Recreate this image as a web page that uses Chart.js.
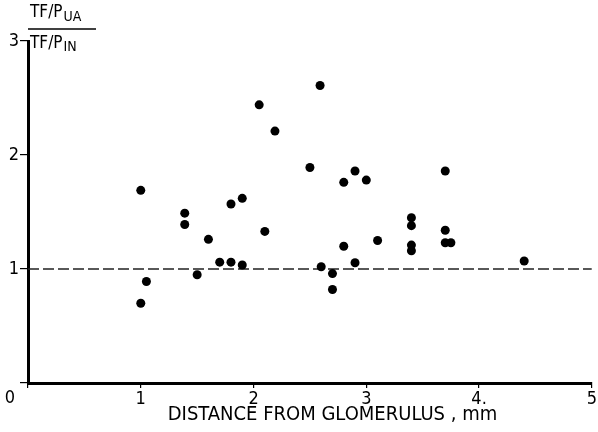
<!DOCTYPE html>
<html>
<head>
<meta charset="utf-8">
<script src="https://cdn.jsdelivr.net/npm/chart.js@4/dist/chart.umd.min.js"></script>
<style>
  html, body { margin: 0; padding: 0; background: #fff; }
  canvas { display: block; }
</style>
</head>
<body>
<canvas id="chart" width="598" height="432"></canvas>
<script>
// distance from glomerulus (mm) and TF/P(UA) / TF/P(IN) ratio
const distance = [1.00, 1.00, 1.05, 1.39, 1.39, 1.50, 1.60, 1.70, 1.80, 1.90,
  1.80, 1.90, 2.10, 2.05, 2.19, 2.59, 2.50, 2.80, 2.90, 3.00,
  2.80, 2.60, 2.70, 2.70, 2.90, 3.10, 3.40, 3.40, 3.40, 3.40,
  3.70, 3.70, 3.70, 3.75, 4.40];
const ratio = [1.69, 0.70, 0.89, 1.49, 1.39, 0.95, 1.26, 1.06, 1.06, 1.035,
  1.57, 1.62, 1.33, 2.44, 2.21, 2.61, 1.89, 1.76, 1.86, 1.78,
  1.20, 1.02, 0.96, 0.82, 1.055, 1.25, 1.45, 1.38, 1.21, 1.16,
  1.34, 1.86, 1.23, 1.23, 1.07];
const refLevel = 1;

const xTickLabels = ['', '1', '2', '3', '4.', '5'];
const yTickLabels = ['', '1', '2', '3'];
const xTitle = 'DISTANCE FROM GLOMERULUS , mm';

const FONT = "'DejaVu Sans Condensed', 'DejaVu Sans', sans-serif";

const points = distance.map((d, i) => ({ x: d, y: ratio[i] }));

// origin "0", x axis title and the fraction label at the top of the y axis
const extraText = {
  id: 'extraText',
  afterDraw(chart) {
    const ctx = chart.ctx;
    const xs = chart.scales.x;
    const ys = chart.scales.y;
    const x0 = xs.getPixelForValue(0);
    const y0 = ys.getPixelForValue(0);
    ctx.save();
    ctx.fillStyle = '#000';
    ctx.font = '18px ' + FONT;
    ctx.textAlign = 'center';
    ctx.textBaseline = 'middle';
    ctx.fillText('0', x0 - 18, y0 + 15);

    // axis title sits a bit right of centre in the original
    ctx.font = '20px ' + FONT;
    ctx.fillText(xTitle, xs.getPixelForValue(2.7), y0 + 32);

    // fraction TF/P_UA over TF/P_IN
    const left = x0 + 2;
    ctx.textAlign = 'left';
    ctx.textBaseline = 'alphabetic';
    ctx.font = '17px ' + FONT;
    ctx.fillText('TF/P', left, 17);
    const w = ctx.measureText('TF/P').width;
    ctx.font = '14px ' + FONT;
    ctx.fillText('UA', left + w + 1, 21);
    ctx.font = '17px ' + FONT;
    ctx.fillText('TF/P', left, 48);
    ctx.font = '14px ' + FONT;
    ctx.fillText('IN', left + w + 1, 51);
    ctx.strokeStyle = '#000';
    ctx.lineWidth = 1.5;
    ctx.beginPath();
    ctx.moveTo(left - 2, 29);
    ctx.lineTo(left + 66, 29);
    ctx.stroke();
    ctx.restore();
  }
};

new Chart(document.getElementById('chart'), {
  type: 'scatter',
  data: {
    datasets: [
      {
        data: points,
        backgroundColor: '#000',
        borderWidth: 0,
        pointRadius: 4.5,
        pointHoverRadius: 4.5
      },
      {
        type: 'line',
        data: [{ x: 0, y: refLevel }, { x: 5, y: refLevel }],
        borderColor: '#222',
        borderWidth: 1.3,
        borderDash: [11, 4],
        pointRadius: 0,
        fill: false
      }
    ]
  },
  options: {
    responsive: false,
    animation: false,
    devicePixelRatio: 1,
    layout: { padding: { top: 41, right: 3, left: 0, bottom: 0 } },
    plugins: {
      legend: { display: false },
      tooltip: { enabled: false }
    },
    scales: {
      x: {
        type: 'linear',
        min: 0,
        max: 5,
        afterFit: (scale) => { scale.height = 49; },
        border: { color: '#000', width: 3 },
        grid: { drawOnChartArea: false, drawTicks: true, tickLength: 5, color: '#000', lineWidth: 1.2 },
        ticks: {
          stepSize: 1,
          padding: 1,
          color: '#000',
          font: { family: FONT, size: 18 },
          maxRotation: 0,
          callback: (v) => xTickLabels[v]
        }
      },
      y: {
        type: 'linear',
        min: 0,
        max: 3,
        afterFit: (scale) => { scale.width = 28; },
        border: { color: '#000', width: 3 },
        grid: { drawOnChartArea: false, drawTicks: true, tickLength: 8, color: '#000', lineWidth: 1.2 },
        ticks: {
          stepSize: 1,
          padding: 1,
          color: '#000',
          font: { family: FONT, size: 18 },
          callback: (v) => yTickLabels[v]
        }
      }
    }
  },
  plugins: [extraText]
});
</script>
</body>
</html>
